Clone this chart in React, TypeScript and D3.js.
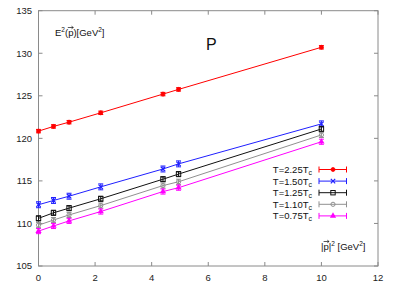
import * as d3 from 'd3';
import React from 'react';

// momentum squared values (GeV^2)
const p2 = [0, 0.53, 1.08, 2.2, 4.4, 4.95, 10];

const labels = ['2.25', '1.50', '1.25', '1.10', '0.75'];
const colors = ['#ff0000', '#1f1fff', '#111111', '#909090', '#ff00ff'];
const markers = ['dot', 'cross', 'square', 'circle', 'triangle'];

const e2_225 = [120.85, 121.4, 121.9, 123.0, 125.2, 125.75, 130.7];
const e2_150 = [112.2, 112.7, 113.2, 114.3, 116.4, 117.0, 121.7];
const e2_125 = [110.6, 111.25, 111.8, 112.9, 115.2, 115.8, 121.1];
const e2_110 = [109.8, 110.4, 111.0, 112.1, 114.45, 114.9, 120.4];
const e2_075 = [109.1, 109.7, 110.3, 111.4, 113.75, 114.2, 119.6];
const errs = [0.2, 0.35, 0.3, 0.3, 0.3];

const series = [e2_225, e2_150, e2_125, e2_110, e2_075];

const xTicks = [0, 2, 4, 6, 8, 10, 12];
const yTicks = [105, 110, 115, 120, 125, 130, 135];

const W = 395;
const H = 289;
const mL = 38.5;
const mR = 17;
const mT = 10.7;
const mB = 23;

const font = '"Liberation Sans", Arial, sans-serif';

const Marker = ({ type, x, y, color }: { type: string; x: number; y: number; color: string }) => {
  const s = 2.2;
  if (type === 'dot') return <circle cx={x} cy={y} r={2} fill={color} stroke={color} strokeWidth={0.8} />;
  if (type === 'cross')
    return (
      <path d={`M${x - s},${y - s}L${x + s},${y + s}M${x - s},${y + s}L${x + s},${y - s}`} stroke={color} strokeWidth={1.2} />
    );
  if (type === 'square')
    return <rect x={x - s} y={y - s} width={2 * s} height={2 * s} fill="none" stroke={color} strokeWidth={1} />;
  if (type === 'circle') return <circle cx={x} cy={y} r={2.1} fill="none" stroke={color} strokeWidth={1} />;
  return <path d={d3.symbol(d3.symbolTriangle, 17)()!} transform={`translate(${x},${y})`} fill={color} />;
};

// small vector arrow drawn over a letter
const Arrow = ({ x0, x1, y }: { x0: number; x1: number; y: number }) => (
  <path d={`M${x0},${y}L${x1},${y}M${x1 - 1.8},${y - 1.3}L${x1},${y}L${x1 - 1.8},${y + 1.3}`} fill="none" stroke="#111" strokeWidth={0.7} />
);

const App = () => {
  const x = d3.scaleLinear().domain([0, 12]).range([mL, W - mR]);
  const y = d3.scaleLinear().domain([105, 135]).range([H - mB, mT]);
  const line = d3
    .line<number>()
    .x((_, i) => x(p2[i]))
    .y((d) => y(d));

  const frame = '#8a8a8a';
  const legY0 = 169.5;
  const legDy = 11.6;

  return (
    <svg width={W} height={H} style={{ position: 'absolute', left: 0, top: 0, background: '#fff' }} fontFamily={font}>
      {/* frame */}
      <rect x={x(0)} y={y(135)} width={x(12) - x(0)} height={y(105) - y(135)} fill="none" stroke={frame} strokeWidth={1} />
      {xTicks.map((t) => (
        <g key={'x' + t}>
          <line x1={x(t)} x2={x(t)} y1={y(105)} y2={y(105) - 4} stroke={frame} />
          <line x1={x(t)} x2={x(t)} y1={y(135)} y2={y(135) + 4} stroke={frame} />
          <text x={x(t)} y={281} fontSize={9.5} textAnchor="middle" fill="#222">
            {t}
          </text>
        </g>
      ))}
      {yTicks.map((t) => (
        <g key={'y' + t}>
          <line x1={x(0)} x2={x(0) + 4} y1={y(t)} y2={y(t)} stroke={frame} />
          <line x1={x(12)} x2={x(12) - 4} y1={y(t)} y2={y(t)} stroke={frame} />
          <text x={32} y={y(t) + 3.3} fontSize={9.5} textAnchor="end" fill="#222">
            {t}
          </text>
        </g>
      ))}

      {/* series */}
      {series.map((vals, si) => (
        <g key={si}>
          <path d={line(vals)!} fill="none" stroke={colors[si]} strokeWidth={1} />
          {vals.map((v, i) => (
            <g key={i}>
              <line x1={x(p2[i])} x2={x(p2[i])} y1={y(v - errs[si])} y2={y(v + errs[si])} stroke={colors[si]} />
              <line x1={x(p2[i]) - 2.5} x2={x(p2[i]) + 2.5} y1={y(v - errs[si])} y2={y(v - errs[si])} stroke={colors[si]} />
              <line x1={x(p2[i]) - 2.5} x2={x(p2[i]) + 2.5} y1={y(v + errs[si])} y2={y(v + errs[si])} stroke={colors[si]} />
              <Marker type={markers[si]} x={x(p2[i])} y={y(v)} color={colors[si]} />
            </g>
          ))}
        </g>
      ))}

      {/* legend */}
      {labels.map((l, i) => {
        const ly = legY0 + i * legDy;
        return (
          <g key={l}>
            <text x={312} y={ly + 3.5} fontSize={9.5} textAnchor="end" fill="#111">
              {`T=${l}T`}
              <tspan fontSize={7} dy={2}>c</tspan>
            </text>
            <line x1={319} x2={346.5} y1={ly} y2={ly} stroke={colors[i]} />
            <line x1={319} x2={319} y1={ly - 3} y2={ly + 3} stroke={colors[i]} />
            <line x1={346.5} x2={346.5} y1={ly - 3} y2={ly + 3} stroke={colors[i]} />
            <Marker type={markers[i]} x={333} y={ly} color={colors[i]} />
          </g>
        );
      })}

      {/* labels */}
      <text x={55} y={36} fontSize={9.5} fill="#111">
        E<tspan fontSize={6.5} dy={-4}>2</tspan>
        <tspan dy={4}>(p)[GeV</tspan>
        <tspan fontSize={6.5} dy={-4}>2</tspan>
        <tspan dy={4}>]</tspan>
      </text>
      <Arrow x0={67.8} x1={73.3} y={27.5} />
      <text x={206} y={50} fontSize={16} fill="#111">
        P
      </text>
      <text x={321} y={250} fontSize={9.5} fill="#111">
        |p|<tspan fontSize={6.5} dy={-4}>2</tspan>
        <tspan dy={4}> [GeV</tspan>
        <tspan fontSize={6.5} dy={-4}>2</tspan>
        <tspan dy={4}>]</tspan>
      </text>
      <Arrow x0={323.6} x1={329.1} y={241.5} />
    </svg>
  );
};

export default App;
